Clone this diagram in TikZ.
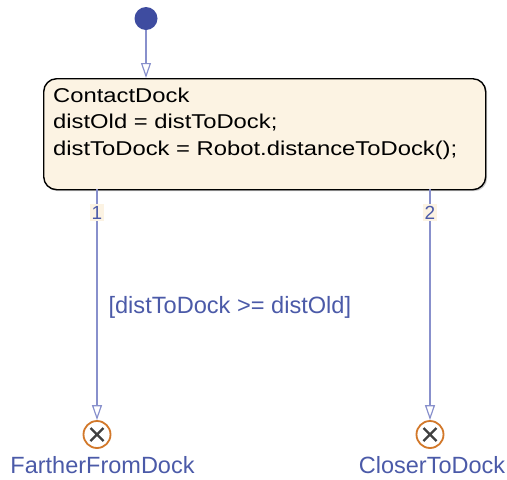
\documentclass[tikz,border=0pt]{standalone}
\usepackage{fontspec}
\setmainfont{Liberation Sans}
\newfontfamily\statefont[FakeStretch=1.19]{Liberation Sans}
\usetikzlibrary{arrows.meta,shadows,calc}
\definecolor{trans}{HTML}{8890CC}
\definecolor{transtext}{HTML}{4B5AA8}
\definecolor{dotc}{HTML}{3E4CA0}
\definecolor{statefill}{HTML}{FCF3E3}
\definecolor{junc}{HTML}{D2782A}
\tikzset{
  statebox/.style={draw=black, line width=1.4pt, fill=statefill, rounded corners=13pt,
    drop shadow={shadow xshift=1.5pt, shadow yshift=-1.5pt, opacity=0.4}},
  tline/.style={draw=trans, line width=2pt, -{Triangle[open, length=15pt, width=10pt, line width=1.2pt]}},
  tlab/.style={text=transtext, font=\fontsize{23.5}{26}\selectfont},
  juncnode/.style={circle, draw=junc, line width=1.8pt, fill=white, minimum size=27pt, inner sep=0pt},
  numlab/.style={fill=statefill, text=transtext, inner sep=1.5pt, font=\fontsize{19}{21}\selectfont},
  statetext/.style={anchor=base west, inner sep=0pt, font=\statefont\fontsize{20}{22}\selectfont},
  xmark/.style={line width=2.4pt, draw=black!75},
}
\begin{document}
\begin{tikzpicture}[x=1pt,y=-1pt]
\useasboundingbox (0,0) rectangle (507,480);
\node[circle, fill=dotc, minimum size=23pt, inner sep=0pt] (init) at (146,18.5) {};
\node[statebox, minimum width=442pt, minimum height=111pt, anchor=north west] (cd) at (43,78) {};
\node[statetext] (t1) at (53,102.5) {ContactDock};
\node[statetext] (t2) at (53,128.8) {distOld = distToDock;};
\node[statetext] (t3) at (53,155) {distToDock = Robot.distanceToDock();};
\coordinate (s1) at (97,189);
\coordinate (s2) at (430,189);
\node[juncnode] (j1) at (97,434.5) {};
\node[juncnode] (j2) at (430,434.5) {};
\draw[xmark] ($(j1)+(-6.5,-6.5)$) -- ($(j1)+(6.5,6.5)$) ($(j1)+(-6.5,6.5)$) -- ($(j1)+(6.5,-6.5)$);
\draw[xmark] ($(j2)+(-6.5,-6.5)$) -- ($(j2)+(6.5,6.5)$) ($(j2)+(-6.5,6.5)$) -- ($(j2)+(6.5,-6.5)$);
\draw[tline] (init) -- (init |- cd.north);
\draw[tline] (s1) -- (j1.north);
\draw[tline] (s2) -- (j2.north);
\node[numlab] (n1) at (97,212.5) {1};
\node[numlab] (n2) at (430,212.5) {2};
\node[tlab, anchor=base west, font=\fontsize{23.6}{26}\selectfont] (cond) at (105,313.5) {[distToDock >= distOld]};
\node[tlab, anchor=base] (l1) at (102.5,473.5) {FartherFromDock};
\node[tlab, anchor=base] (l2) at (432,473.5) {CloserToDock};
\end{tikzpicture}
\end{document}
